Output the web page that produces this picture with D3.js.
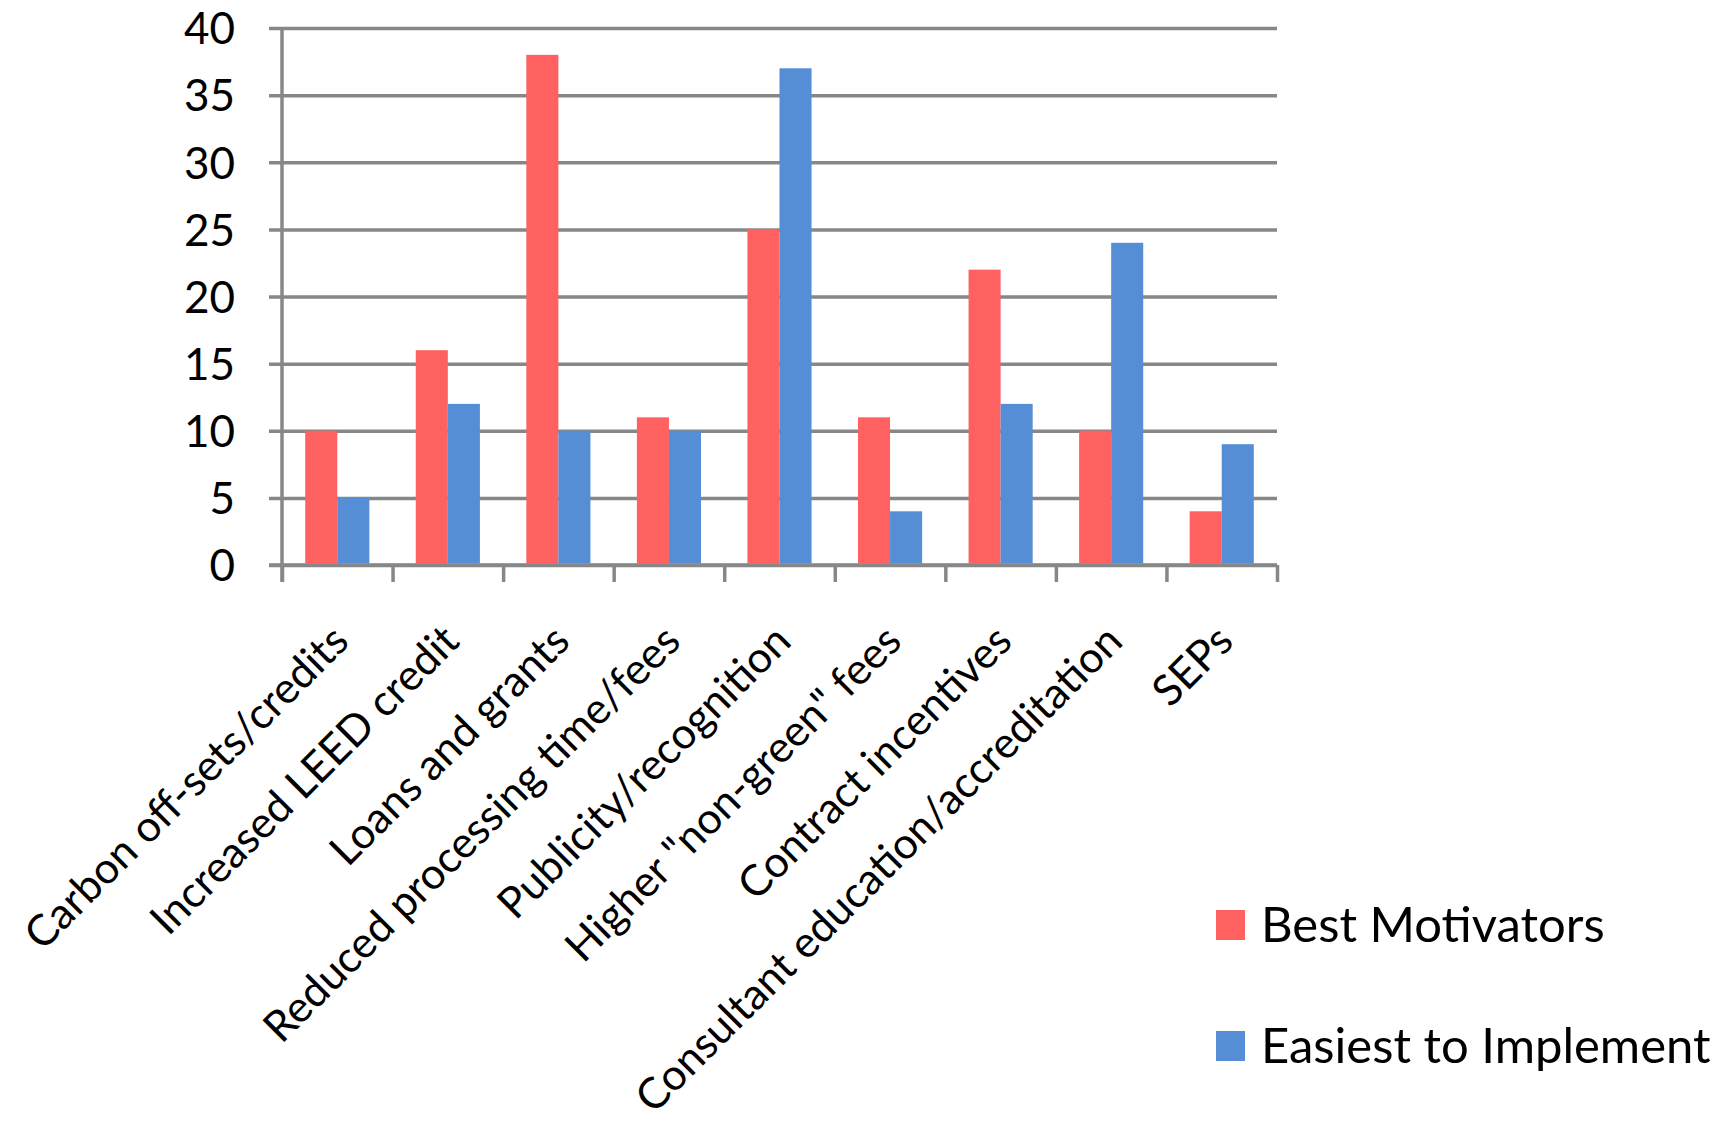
<!DOCTYPE html>
<html>
<head>
<meta charset="utf-8">
<script src="https://cdnjs.cloudflare.com/ajax/libs/d3/7.8.5/d3.min.js"></script>
<style>
  body { margin: 0; background: #fff; }
  text { font-family: Lato, "Open Sans", sans-serif; fill: #000; }
</style>
</head>
<body>
<div id="chart"></div>
<script>
// data
var categories = [
    'Carbon off-sets/credits',
    'Increased LEED credit',
    'Loans and grants',
    'Reduced processing time/fees',
    'Publicity/recognition',
    'Higher "non-green" fees',
    'Contract incentives',
    'Consultant education/accreditation',
    'SEPs'
];
var seriesNames = ['Best Motivators', 'Easiest to Implement'];
var bestMotivators = [10, 16, 38, 11, 25, 11, 22, 10, 4];
var easiestToImplement = [5, 12, 10, 10, 37, 4, 12, 24, 9];
var yTicks = [0, 5, 10, 15, 20, 25, 30, 35, 40];
var colors = ['#FF6060', '#558ED5'];

var svgWidth = 1731;
var svgHeight = 1131;

var margin = { top: 28, right: 454, bottom: 566, left: 282 };
var width = svgWidth - margin.left - margin.right;
var height = svgHeight - margin.top - margin.bottom;

var svg = d3.select('#chart')
    .append('svg')
    .attr('width', svgWidth)
    .attr('height', svgHeight);

var chartGroup = svg.append('g')
    .attr('transform', `translate(${margin.left}, ${margin.top})`);

// scales
var x0 = d3.scaleBand()
    .domain(categories)
    .range([0, width])
    .paddingInner(0.42)
    .paddingOuter(0.21);

var x1 = d3.scaleBand()
    .domain(seriesNames)
    .range([0, x0.bandwidth()]);

var xEdges = d3.scaleLinear()
    .domain([0, categories.length])
    .range([0, width]);

var y = d3.scaleLinear()
    .domain([0, 40])
    .range([height, 0]);

var gridColor = '#878787';

// gridlines + y labels
var leftAxis = d3.axisLeft(y)
    .tickValues(yTicks)
    .tickSize(width + 13)
    .tickPadding(34);

var yAxis = chartGroup.append('g')
    .attr('transform', `translate(${width}, 0)`)
    .call(leftAxis);
yAxis.select('.domain').remove();
yAxis.selectAll('line')
    .attr('stroke', gridColor)
    .attr('stroke-width', 3.5);
yAxis.selectAll('text')
    .style('font-size', '44px')
    .attr('dy', '0.36em');

// category boundary ticks
var edgeAxis = d3.axisBottom(xEdges)
    .ticks(categories.length)
    .tickFormat('')
    .tickSizeInner(17)
    .tickSizeOuter(0);

var xAxis = chartGroup.append('g')
    .attr('transform', `translate(0, ${height})`)
    .call(edgeAxis);
xAxis.select('.domain').remove();
xAxis.selectAll('line')
    .attr('stroke', gridColor)
    .attr('stroke-width', 3.5);

// y axis line
chartGroup.append('line')
    .attr('x1', 0).attr('x2', 0)
    .attr('y1', y(40)).attr('y2', height + 17)
    .attr('stroke', gridColor)
    .attr('stroke-width', 3.5);

// bars
var barData = categories.map(function(c, i) {
    return { cat: c, values: [bestMotivators[i], easiestToImplement[i]] };
});

var groups = chartGroup.selectAll('.cat')
    .data(barData)
    .enter()
    .append('g')
    .attr('class', 'cat')
    .attr('transform', d => `translate(${x0(d.cat)}, 0)`);

groups.selectAll('rect')
    .data(d => d.values.map((v, j) => ({ name: seriesNames[j], value: v, idx: j })))
    .enter()
    .append('rect')
    .attr('x', d => x1(d.name))
    .attr('y', d => y(d.value))
    .attr('width', x1.bandwidth())
    .attr('height', d => y(0) - y(d.value) - 1.5)
    .attr('fill', d => colors[d.idx]);

// zero line on top of bars
chartGroup.append('line')
    .attr('x1', -13).attr('x2', width)
    .attr('y1', height).attr('y2', height)
    .attr('stroke', gridColor)
    .attr('stroke-width', 3.5);

// rotated category labels
var labelAxis = d3.axisBottom(x0).tickSize(0);
var labelGroup = chartGroup.append('g')
    .attr('transform', `translate(0, ${height})`)
    .call(labelAxis);
labelGroup.select('.domain').remove();
labelGroup.selectAll('text')
    .style('font-size', '43px')
    .attr('text-anchor', 'end')
    .attr('y', 0)
    .attr('dy', '0.35em')
    .attr('transform', 'translate(3, 68) rotate(-45)');

// legend
var legend = svg.append('g')
    .attr('transform', 'translate(1216, 910)');

var legendItems = legend.selectAll('g')
    .data(seriesNames)
    .enter()
    .append('g')
    .attr('transform', (d, i) => `translate(0, ${i * 121})`);

legendItems.append('rect')
    .attr('width', 29)
    .attr('height', 30)
    .attr('fill', (d, i) => colors[i]);

legendItems.append('text')
    .attr('x', 45)
    .attr('y', 32)
    .style('font-size', '49px')
    .text(d => d);
</script>
</body>
</html>
